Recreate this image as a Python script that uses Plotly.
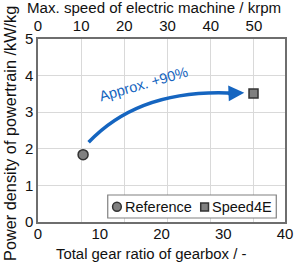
import plotly.graph_objects as go

# data
series_names = ["Reference", "Speed4E"]
gear_ratio = [7.3, 34.9]
power_density = [1.84, 3.51]
x_ticks = [0, 10, 20, 30, 40]
y_ticks = [0, 1, 2, 3, 4, 5]
speed_ticks = [0, 10, 20, 30, 40, 50]
speed_range_max = 57.2
arrow_start = (8.2, 2.18)
arrow_ctrl = (16.6, 3.67)
arrow_end = (32.0, 3.52)
arrow_tip = (33.4, 3.53)
label_text = "Approx. +90%"
label_pos = (17.1, 3.76)
x_title = "Total gear ratio of gearbox / -"
x2_title = "Max. speed of electric machine / krpm"
y_title = "Power density of powertrain /kW/kg"

FONT = "Liberation Sans, Arial, sans-serif"
BLUE = "#1565c0"
W, H = 300, 263
ML, MR, MT, MB = 38, 7, 39, 41
PW, PH = W - ML - MR, H - MT - MB


def px(xp):
    return (xp - ML) / PW


def py(yp):
    return (H - MB - yp) / PH


fig = go.Figure()
fig.add_trace(go.Scatter(x=[gear_ratio[0]], y=[power_density[0]], mode="markers", name=series_names[0],
                         showlegend=False,
                         marker=dict(symbol="circle", size=10, color="#808080", line=dict(color="#333333", width=1.5))))
fig.add_trace(go.Scatter(x=[gear_ratio[1]], y=[power_density[1]], mode="markers", name=series_names[1],
                         showlegend=False,
                         marker=dict(symbol="square", size=9, color="#808080", line=dict(color="#333333", width=1.5))))
fig.add_trace(go.Scatter(x=[0], y=[0], xaxis="x2", mode="markers", marker=dict(opacity=0),
                         showlegend=False, hoverinfo="skip"))

# arrow
fig.add_shape(type="path", xref="x", yref="y",
              path=f"M {arrow_start[0]},{arrow_start[1]} Q {arrow_ctrl[0]},{arrow_ctrl[1]} {arrow_end[0]},{arrow_end[1]}",
              line=dict(color=BLUE, width=3.5))
fig.add_annotation(x=arrow_tip[0], y=arrow_tip[1], ax=arrow_end[0] - 1.5, ay=arrow_end[1] - 0.01,
                   xref="x", yref="y", axref="x", ayref="y", showarrow=True, arrowhead=2,
                   arrowsize=0.9, arrowwidth=3.5, arrowcolor=BLUE, text="")
fig.add_annotation(x=label_pos[0], y=label_pos[1], xref="x", yref="y", text=label_text, showarrow=False,
                   textangle=-16, font=dict(family=FONT, size=14.5, color=BLUE))

# manual legend
fig.add_shape(type="rect", xref="paper", yref="paper", x0=px(110), x1=px(284), y0=py(218), y1=py(195),
              fillcolor="white", line=dict(color="#808080", width=1.2), layer="above")
fig.add_shape(type="circle", xref="paper", yref="paper", x0=px(115), x1=px(124), y0=py(211.2), y1=py(202.2),
              fillcolor="#808080", line=dict(color="#333333", width=1.5), layer="above")
fig.add_shape(type="rect", xref="paper", yref="paper", x0=px(206), x1=px(214), y0=py(211), y1=py(203),
              fillcolor="#808080", line=dict(color="#333333", width=1.5), layer="above")
fig.add_annotation(x=px(126), y=py(207), xref="paper", yref="paper", xanchor="left", yanchor="middle",
                   text=series_names[0], showarrow=False, font=dict(family=FONT, size=14.5, color="#111111"))
fig.add_annotation(x=px(216), y=py(207), xref="paper", yref="paper", xanchor="left", yanchor="middle",
                   text=series_names[1], showarrow=False, font=dict(family=FONT, size=14.5, color="#111111"))

# titles
fig.add_annotation(x=px(155), y=py(254), xref="paper", yref="paper", text=x_title, showarrow=False,
                   xanchor="center", yanchor="middle", font=dict(family=FONT, size=14.9, color="#111111"))
fig.add_annotation(x=px(157.5), y=py(7), xref="paper", yref="paper", text=x2_title, showarrow=False,
                   xanchor="center", yanchor="middle", font=dict(family=FONT, size=15.1, color="#111111"))
fig.add_annotation(x=px(8.5), y=py(133.5), xref="paper", yref="paper", text=y_title, showarrow=False,
                   textangle=-90, xanchor="center", yanchor="middle",
                   font=dict(family=FONT, size=16.3, color="#111111"))

axis_common = dict(linecolor="#6e6e6e", linewidth=1.5, showline=True, ticks="", zeroline=False,
                   tickfont=dict(family=FONT, size=15, color="#111111"))

fig.update_layout(
    width=W, height=H,
    margin=dict(l=ML, r=MR, t=MT, b=MB),
    paper_bgcolor="white", plot_bgcolor="white",
    font=dict(family=FONT, size=14, color="#111111"),
    xaxis=dict(range=[0, 40], tickvals=x_ticks, showgrid=False, ticklabelstandoff=-3, **axis_common),
    xaxis2=dict(range=[0, speed_range_max], tickvals=speed_ticks, overlaying="x", side="top",
                showgrid=True, gridcolor="#d9d9d9", gridwidth=1, **axis_common),
    yaxis=dict(range=[0, 5], tickvals=y_ticks, showgrid=True, gridcolor="#d9d9d9", gridwidth=1, mirror=True,
               **axis_common),
    showlegend=False,
)

fig.write_html("out.html")
